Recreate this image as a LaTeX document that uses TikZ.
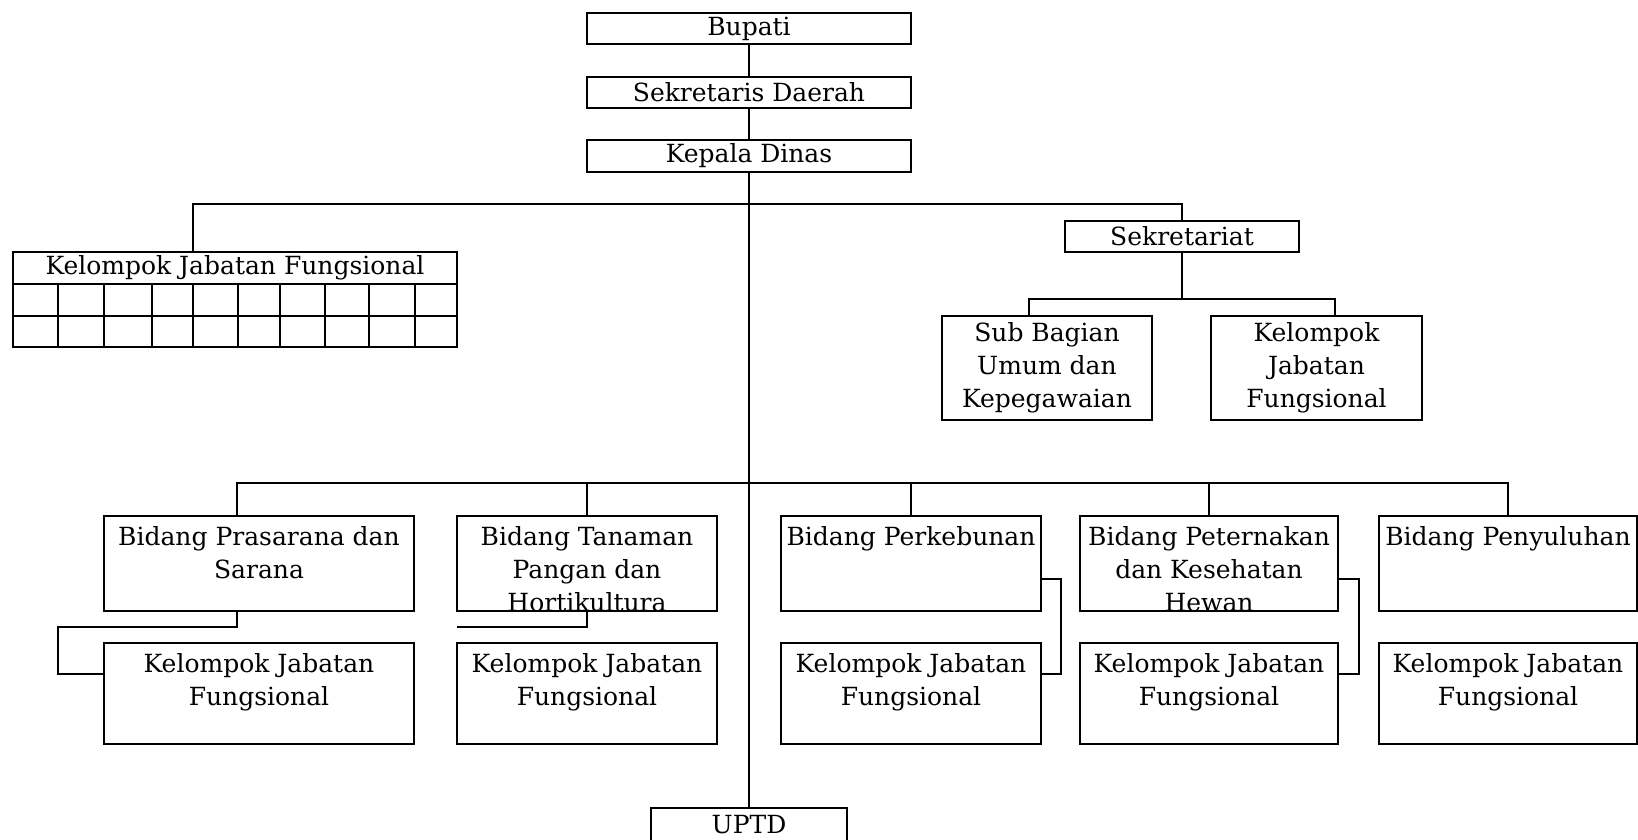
\documentclass[tikz,border=0pt]{standalone}
\usepackage{fontspec}
\setmainfont{DejaVu Serif}
\newcommand\mkbox[5]{\node[bx, minimum width={(#4-#2)*0.5pt}, minimum height={(#5-#3)*0.5pt}] (#1) at ({(#2+#4)/2},{(#3+#5)/2}) {};}
\begin{document}
\begin{tikzpicture}[x=0.5pt,y=-0.5pt, line width=0.9pt,
  bx/.style={draw, rectangle, inner sep=0pt, outer sep=0pt},
  txt/.style={align=center, inner sep=0pt, font=\fontsize{12.5}{16.5}\selectfont},
  toptxt/.style={txt, anchor=north}]
\clip (0,0) rectangle (1638,840);
% top chain
\mkbox{bup}{587}{13}{911}{44}
\node[txt] (bupt) at (bup) {Bupati};
\mkbox{sd}{587}{77}{911}{108}
\node[txt] (sdt) at (sd) {Sekretaris Daerah};
\mkbox{kd}{587}{140}{911}{172}
\node[txt] (kdt) at (kd) {Kepala Dinas};
\draw (bup.south) -- (sd.north);
\draw (sd.south) -- (kd.north);
% left functional group table
\mkbox{kjf}{13}{252}{457}{347}
\node[txt] (kjft) at (235,268) {Kelompok Jabatan Fungsional};
\draw (13,284) -- (457,284);
\draw (13,316) -- (457,316);
\foreach \cx in {58,104,152,193,238,280,325,369,415} {\draw (\cx,284) -- (\cx,347);}
% secretariat
\mkbox{sek}{1065}{221}{1299}{252}
\node[txt] (sekt) at (sek) {Sekretariat};
\mkbox{sub}{942}{316}{1152}{420}
\node[txt] (subt) at (sub) {Sub Bagian\\Umum dan\\Kepegawaian};
\mkbox{skj}{1211}{316}{1422}{420}
\node[txt] (skjt) at (skj) {Kelompok\\Jabatan\\Fungsional};
% bidang boxes
\mkbox{b1}{104}{516}{414}{611}
\node[toptxt] (b1t) at ([yshift=-4.6pt]b1.north) {Bidang Prasarana dan\\Sarana};
\mkbox{b2}{457}{516}{717}{611}
\node[toptxt] (b2t) at ([yshift=-4.6pt]b2.north) {Bidang Tanaman\\Pangan dan\\Hortikultura};
\mkbox{b3}{781}{516}{1041}{611}
\node[toptxt] (b3t) at ([yshift=-4.6pt]b3.north) {Bidang Perkebunan};
\mkbox{b4}{1080}{516}{1338}{611}
\node[toptxt] (b4t) at ([yshift=-4.6pt]b4.north) {Bidang Peternakan\\dan Kesehatan\\Hewan};
\mkbox{b5}{1379}{516}{1637}{611}
\node[toptxt] (b5t) at ([yshift=-4.6pt]b5.north) {Bidang Penyuluhan};
% functional groups under bidang
\mkbox{k1}{104}{643}{414}{744}
\node[toptxt] (k1t) at ([yshift=-5pt]k1.north) {Kelompok Jabatan\\Fungsional};
\mkbox{k2}{457}{643}{717}{744}
\node[toptxt] (k2t) at ([yshift=-5pt]k2.north) {Kelompok Jabatan\\Fungsional};
\mkbox{k3}{781}{643}{1041}{744}
\node[toptxt] (k3t) at ([yshift=-5pt]k3.north) {Kelompok Jabatan\\Fungsional};
\mkbox{k4}{1080}{643}{1338}{744}
\node[toptxt] (k4t) at ([yshift=-5pt]k4.north) {Kelompok Jabatan\\Fungsional};
\mkbox{k5}{1379}{643}{1637}{744}
\node[toptxt] (k5t) at ([yshift=-5pt]k5.north) {Kelompok Jabatan\\Fungsional};
% UPTD
\mkbox{up}{651}{808}{847}{846}
\node[txt] (upt) at (749,825) {UPTD};
% hubs and off-centre attachment points
\coordinate (hub1) at (749,204);
\coordinate (kjfdrop) at (193,252);
\coordinate (hub2) at (1182,299);
\coordinate (s1top) at (1029,316);
\coordinate (s2top) at (1335,316);
\coordinate (hub3) at (749,483);
\coordinate (b1top) at (237,516);
\coordinate (b1bot) at (237,611);
\coordinate (k1in) at (104,674);
\coordinate (c2end) at (457,627);
\coordinate (b3r) at (1041,579);
\coordinate (k3r) at (1041,674);
\coordinate (b4r) at (1338,579);
\coordinate (k4r) at (1338,674);
% main trunk
\draw (kd.south) -- (kd.south |- up.north);
% upper branch
\draw (sek.north) |- (hub1) -| (kjfdrop);
\draw (sek.south) -- (hub2);
\draw (s1top) |- (hub2) -| (s2top);
% lower branch
\draw (b1top) |- (hub3) -| (b5.north);
\draw (b2.north) -- (b2.north |- hub3);
\draw (b3.north) -- (b3.north |- hub3);
\draw (b4.north) -- (b4.north |- hub3);
% bidang to functional groups
\draw (b1bot) -- (237,627) -- (58,627) -- (58,674) -- (k1in);
\draw (b2.south) -- (b2.south |- c2end) -- (c2end);
\draw (b3r) -- (1061,579) -- (1061,674) -- (k3r);
\draw (b4r) -- (1359,579) -- (1359,674) -- (k4r);
\end{tikzpicture}
\end{document}
